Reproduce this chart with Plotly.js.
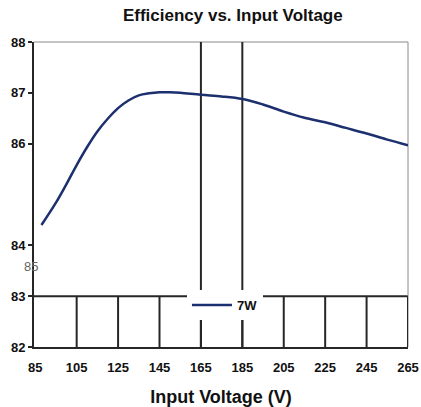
<!DOCTYPE html>
<html><head><meta charset="utf-8">
<script src="https://cdn.plot.ly/plotly-3.0.1.min.js"></script>
<style>html,body{margin:0;padding:0;background:#fff}#chart{width:421px;height:407px}</style>
</head><body><div id="chart"></div>
<script>
const voltage = [88,95,100,105,110,115,120,125,130,135,140,145,150,155,165,175,185,195,205,215,225,235,245,255,265];
const efficiency7W = [84.40,84.84,85.20,85.58,85.93,86.24,86.49,86.70,86.85,86.95,86.99,87.01,87.01,87.00,86.96,86.93,86.88,86.77,86.63,86.51,86.42,86.31,86.20,86.08,85.97];
const xTicks = [85,105,125,145,165,185,205,225,245,265];
const yTicks = [82,83,84,86,87,88];
const fullGridX = [165,185];
const seriesName = '7W';

const dark = '#262626';
const shapes = [];
xTicks.slice(1).forEach(v => shapes.push({type:'line', xref:'x', yref:'y', x0:v, x1:v, y0:82, y1:83, layer:'below', line:{color:dark, width:2}}));
fullGridX.forEach(v => shapes.push({type:'line', xref:'x', yref:'y', x0:v, x1:v, y0:82, y1:88, layer:'below', line:{color:dark, width:2}}));
shapes.push({type:'line', xref:'paper', yref:'y', x0:0, x1:1, y0:83, y1:83, layer:'below', line:{color:dark, width:2}});
shapes.push({type:'path', xref:'paper', yref:'paper', path:'M0,1 L1,1 L1,0', layer:'below', line:{color:'#8a8a8a', width:1}});

const fam = 'Liberation Sans, Arial, sans-serif';
const tickFont = {family:fam, size:13, color:'#111', weight:700};

Plotly.newPlot('chart', [{
  x: voltage, y: efficiency7W, name: seriesName, type:'scatter', mode:'lines',
  line:{color:'#1c2f6e', width:2.5, shape:'spline'}
}], {
  width:421, height:407,
  margin:{l:34, r:13, t:42, b:60},
  paper_bgcolor:'#fff', plot_bgcolor:'#fff',
  title:{text:'Efficiency vs. Input Voltage', x:0.553, xanchor:'center', y:0.963, yanchor:'middle',
    font:{family:fam, size:17, color:'#111', weight:700}},
  xaxis:{range:[84.4,265], tickvals:xTicks, ticktext:xTicks.map(String), showgrid:false, zeroline:false,
    showline:true, linecolor:dark, linewidth:2, ticks:'', tickfont:tickFont, ticklabelstandoff:7,
    title:{text:'Input Voltage (V)', standoff:17, font:{family:fam, size:18, color:'#111', weight:700}}},
  yaxis:{range:[82,88], tickvals:yTicks, ticktext:yTicks.map(String), showgrid:false, zeroline:false,
    showline:true, linecolor:dark, linewidth:2, ticks:'outside', ticklen:4, tickwidth:2, tickcolor:dark, tickfont:tickFont},
  showlegend:true,
  legend:{x:0.409, xanchor:'left', y:0.187, yanchor:'top', bgcolor:'#fff', borderwidth:0, itemwidth:40,
    font:tickFont},
  shapes: shapes,
  annotations:[{text:'85', xref:'paper', yref:'paper', x:(31-34)/374, y:(347-266)/305, xanchor:'center', yanchor:'middle', showarrow:false,
    font:{family:fam, size:13, color:'#666'}}]
}, {displayModeBar:false, staticPlot:true});
</script></body></html>
